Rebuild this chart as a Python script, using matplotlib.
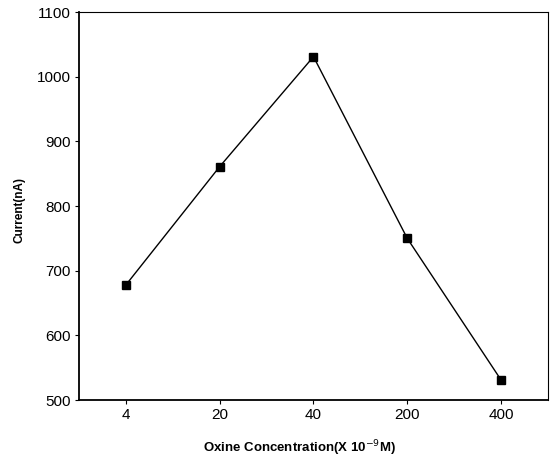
import matplotlib.pyplot as plt

conc_labels = ['4', '20', '40', '200', '400']
current = [678, 861, 1031, 750, 531]

plt.rcParams['font.family'] = ['Liberation Sans', 'DejaVu Sans']

fig = plt.figure(figsize=(5.58, 4.63), dpi=100)
ax = fig.add_axes([0.1416, 0.136, 0.8404, 0.838])

x = list(range(len(conc_labels)))
ax.plot(x, current, color='black', linewidth=1.0, marker='s', markersize=5.5,
        markerfacecolor='black', markeredgecolor='black')

ax.set_xlim(-0.5, 4.5)
ax.set_ylim(500, 1100)
ax.set_xticks(x)
ax.set_xticklabels(conc_labels)
ax.set_yticks(range(500, 1101, 100))
ax.tick_params(direction='out', length=3, width=0.8, labelsize=11, pad=3)

for s in ax.spines.values():
    s.set_linewidth(0.8)
ax.spines['left'].set_linewidth(1.3)
ax.spines['bottom'].set_linewidth(1.3)

ax.set_xlabel('Oxine Concentration(X 10$^{-9}$M)', fontsize=9.5, fontweight='bold')
ax.set_ylabel('Current(nA)', fontsize=8.5, fontweight='bold')
ax.xaxis.set_label_coords(0.47, -0.1)
ax.yaxis.set_label_coords(-0.115, 0.49)

fig.savefig('out.png', dpi=100)
